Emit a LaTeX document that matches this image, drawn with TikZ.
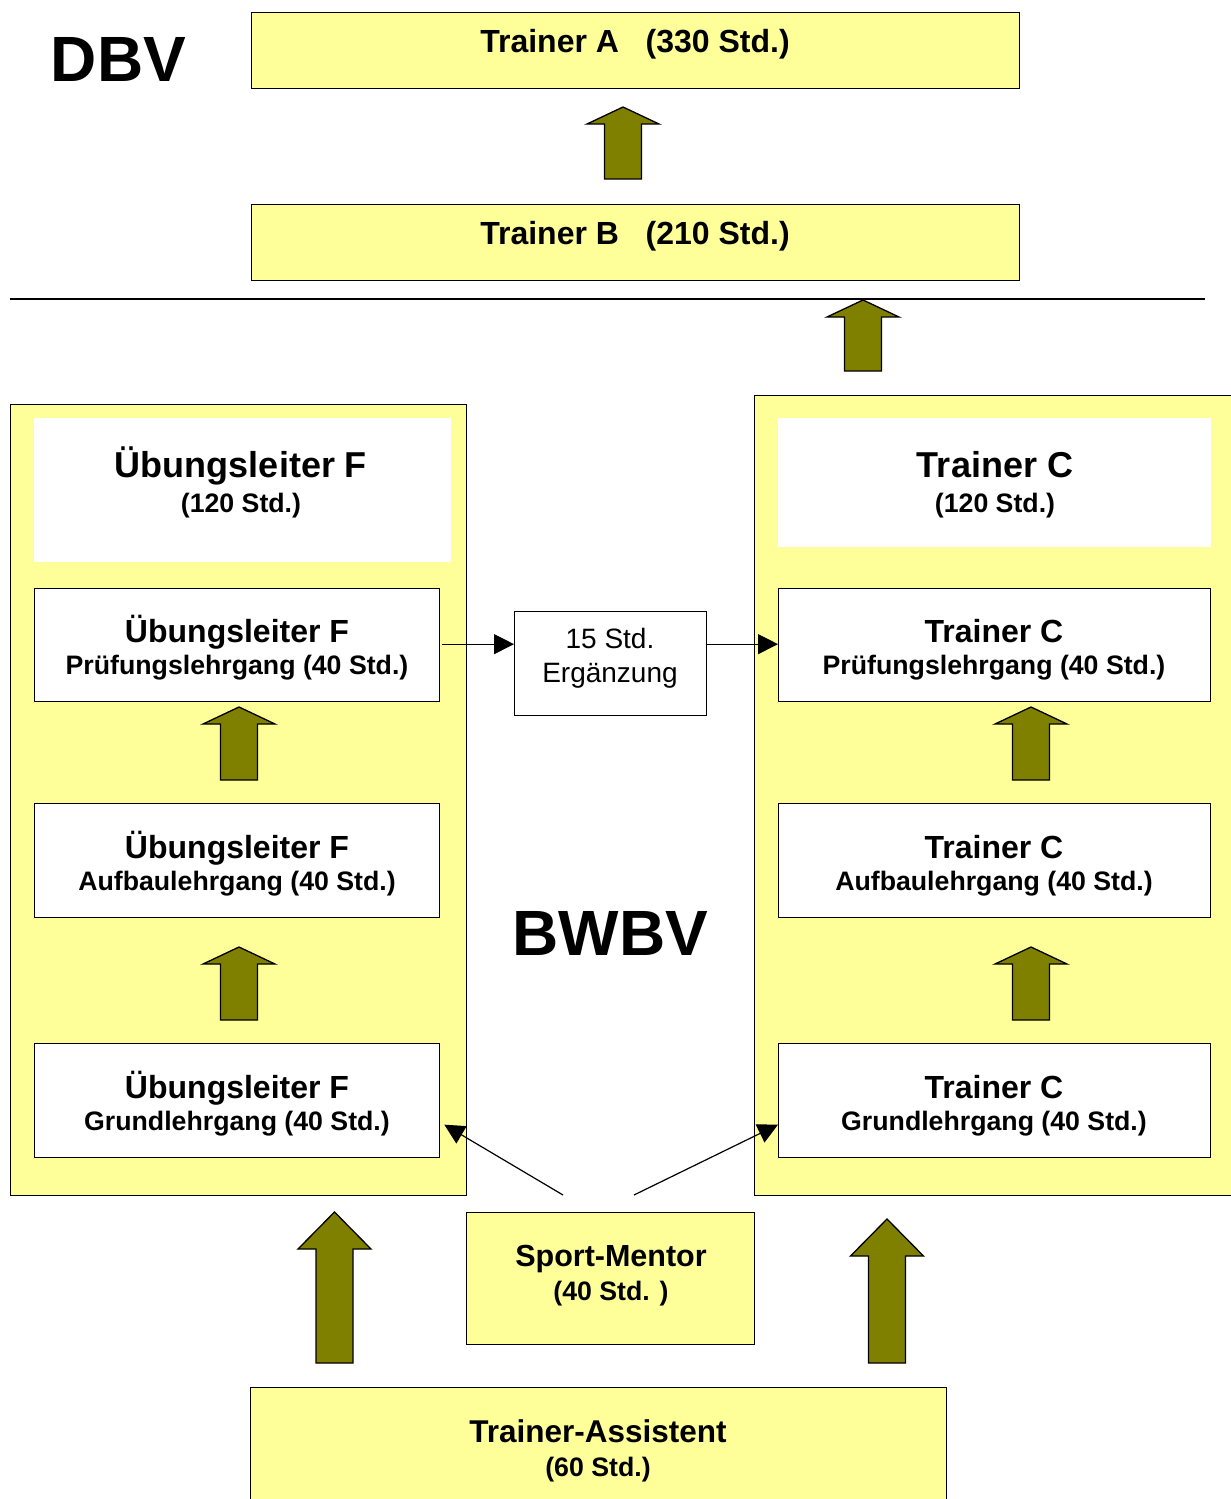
\documentclass[tikz,border=0pt]{standalone}
\usepackage{fontspec}
\setmainfont{Liberation Sans}
\usetikzlibrary{arrows.meta}
\definecolor{yel}{HTML}{FFFF99}
\definecolor{olivearr}{HTML}{808000}
\newcommand\blockup[5]{%
  \draw[blockarrow] ({#1},{#2}) -- ({#1+#5},{#3}) -- ({#1+18.5},{#3}) -- ({#1+18.5},{#4}) -- ({#1-18.5},{#4}) -- ({#1-18.5},{#3}) -- ({#1-#5},{#3}) -- cycle;}
\begin{document}
\begin{tikzpicture}[x=1pt,y=-1pt,
  box/.style={draw, line width=1.3pt, inner sep=0pt, anchor=north west},
  ybox/.style={box, fill=yel},
  wbox/.style={box, fill=white},
  hdr/.style={fill=white, inner sep=0pt, anchor=north west},
  blockarrow/.style={draw, line width=1.3pt, fill=olivearr, line join=miter},
  conn/.style={line width=1.2pt, -{Triangle[length=20pt,width=20pt]}},
  tbig/.style={font=\fontsize{64}{70}\selectfont\bfseries, anchor=base, inner sep=0pt},
  thead/.style={font=\fontsize{36}{40}\selectfont\bfseries, anchor=base, inner sep=0pt},
  ttitle/.style={font=\fontsize{32}{38}\selectfont\bfseries, anchor=base, inner sep=0pt},
  tsub/.style={font=\fontsize{26.7}{30}\selectfont\bfseries, anchor=base, inner sep=0pt},
  treg/.style={font=\fontsize{28}{32}\selectfont, anchor=base, inner sep=0pt}]
\useasboundingbox (0,0) rectangle (1231,1499);
\fill[white] (0,0) rectangle (1231,1499);

% DBV level
\node[ybox, minimum width=768pt, minimum height=76pt] (ta) at (251,12) {};
\node[ybox, minimum width=768pt, minimum height=76pt] (tb) at (251,204) {};
\node[ttitle] (tatxt) at (635,52) {Trainer A~~~(330 Std.)};
\node[ttitle] (tbtxt) at (635,244) {Trainer B~~~(210 Std.)};
\node[tbig] (dbv) at (118.5,81) {DBV};
\blockup{623}{107}{124}{179}{36}
\blockup{863}{300}{317}{371}{36}
\draw[line width=1.2pt] (10,299) -- (1205,299);

% containers
\node[ybox, minimum width=456pt, minimum height=791pt] (lcont) at (10,404) {};
\node[ybox, minimum width=520pt, minimum height=800pt] (rcont) at (754,395) {};
\node[hdr, minimum width=417pt, minimum height=144pt] (lhead) at (34,418) {};
\node[hdr, minimum width=433pt, minimum height=129pt] (rhead) at (778,418) {};
\node[thead] (lheadt) at (241,477) {Übungsleiter F};
\node[tsub] (lheads) at (241,512) {(120 Std.)};
\node[thead] (rheadt) at (995,477) {Trainer C};
\node[tsub] (rheads) at (995,512) {(120 Std.)};

% left column
\node[wbox, minimum width=405pt, minimum height=113pt] (lg1) at (34,588) {};
\node[wbox, minimum width=405pt, minimum height=114pt] (lg2) at (34,803) {};
\node[wbox, minimum width=405pt, minimum height=114pt] (lg3) at (34,1043) {};
\node[ttitle] (lg1t) at (237,642) {Übungsleiter F};
\node[tsub] (lg1s) at (237,674) {Prüfungslehrgang (40 Std.)};
\node[ttitle] (lg2t) at (237,858) {Übungsleiter F};
\node[tsub] (lg2s) at (237,890) {Aufbaulehrgang (40 Std.)};
\node[ttitle] (lg3t) at (237,1098) {Übungsleiter F};
\node[tsub] (lg3s) at (237,1130) {Grundlehrgang (40 Std.)};
\blockup{239}{707}{724}{780}{36}
\blockup{239}{947}{964}{1020}{36}

% right column
\node[wbox, minimum width=432pt, minimum height=113pt] (rg1) at (778,588) {};
\node[wbox, minimum width=432pt, minimum height=114pt] (rg2) at (778,803) {};
\node[wbox, minimum width=432pt, minimum height=114pt] (rg3) at (778,1043) {};
\node[ttitle] (rg1t) at (994,642) {Trainer C};
\node[tsub] (rg1s) at (994,674) {Prüfungslehrgang (40 Std.)};
\node[ttitle] (rg2t) at (994,858) {Trainer C};
\node[tsub] (rg2s) at (994,890) {Aufbaulehrgang (40 Std.)};
\node[ttitle] (rg3t) at (994,1098) {Trainer C};
\node[tsub] (rg3s) at (994,1130) {Grundlehrgang (40 Std.)};
\blockup{1031}{707}{724}{780}{36}
\blockup{1031}{947}{964}{1020}{36}

% middle
\node[wbox, minimum width=192pt, minimum height=104pt] (erg) at (514,611) {};
\node[treg] (ergt1) at (610,648) {15 Std.};
\node[treg] (ergt2) at (610,682) {Ergänzung};
\draw[conn] ([xshift=2pt,yshift=1pt]lg1.east) -- ([yshift=1pt]lg1.east -| erg.west);
\draw[conn] ([yshift=1pt]rg1.west -| erg.east) -- ([yshift=1pt]rg1.west);
\node[tbig] (bwbv) at (610.5,955) {BWBV};

% bottom
\node[ybox, minimum width=288pt, minimum height=132pt] (sm) at (466,1212) {};
\node[ttitle, font=\fontsize{30.5}{36}\selectfont\bfseries] (smt) at (611,1266) {Sport-Mentor};
\node[tsub] (sms) at (611,1300) {(40 Std. )};
\coordinate (sm1) at (563,1195);
\coordinate (sm2) at (634,1195);
\draw[conn] (sm1) -- ([xshift=4pt,yshift=-24pt]lg3.east);
\draw[conn] (sm2) -- ([yshift=-24pt]rg3.west);

\node[ybox, minimum width=696pt, minimum height=130pt] (tas) at (250,1387) {};
\node[ttitle, font=\fontsize{31.5}{36}\selectfont\bfseries] (tast) at (598,1442) {Trainer-Assistent};
\node[tsub] (tass) at (598,1476) {(60 Std.)};
\blockup{334.5}{1212}{1249}{1363}{36.5}
\blockup{887}{1219}{1256}{1363}{36.5}
\end{tikzpicture}
\end{document}
